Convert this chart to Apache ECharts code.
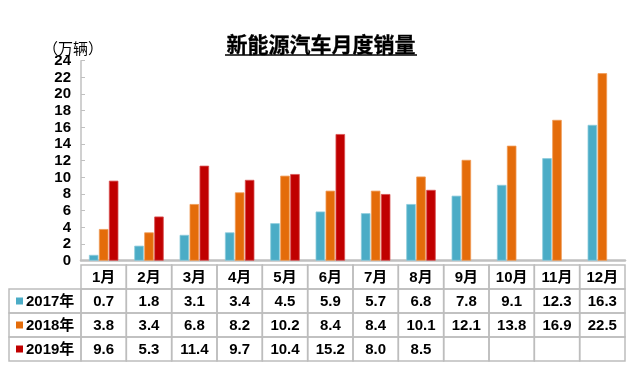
<!DOCTYPE html>
<html><head><meta charset="utf-8">
<script src="https://cdn.jsdelivr.net/npm/echarts@6/dist/echarts.min.js"></script>
<style>html,body{margin:0;padding:0;background:#fff}#c{width:640px;height:378px}</style>
</head><body><div id="c"></div>
<script>
const months = ['1月','2月','3月','4月','5月','6月','7月','8月','9月','10月','11月','12月'];
const years = ['2017年','2018年','2019年'];
const s2017 = [0.7,1.8,3.1,3.4,4.5,5.9,5.7,6.8,7.8,9.1,12.3,16.3];
const s2018 = [3.8,3.4,6.8,8.2,10.2,8.4,8.4,10.1,12.1,13.8,16.9,22.5];
const s2019 = [9.6,5.3,11.4,9.7,10.4,15.2,8.0,8.5,null,null,null,null];
const yMin = 0, yMax = 24, yStep = 2;
const titleText = '新能源汽车月度销量';
const unitText = '（万辆）';

const colors = ['#4bacc6','#e46c0a','#c00000'];
const borders = ['#8ccbdc','#f09a55','#d85050'];
const FONT = "'Liberation Sans','Noto Sans CJK SC',sans-serif";
const seriesData = [s2017, s2018, s2019];

const chart = echarts.init(document.getElementById('c'), null, {renderer:'canvas'});
const gridL = 81, gridR = 15, gridT = 60.7, gridB = 117.3;

chart.setOption({
  animation:false,
  backgroundColor:'#fff',
  grid:{left:gridL,right:gridR,top:gridT,bottom:gridB},
  xAxis:{type:'category',data:months,
    axisLine:{lineStyle:{color:'#c0c0c0',width:2.5}},
    axisTick:{show:false},axisLabel:{show:false}},
  yAxis:{type:'value',min:yMin,max:yMax,interval:yStep,
    axisLine:{show:true,lineStyle:{color:'#c0c0c0',width:1.5}},
    axisTick:{show:true,inside:true,length:4,lineStyle:{color:'#c0c0c0',width:1}},
    splitLine:{show:false},
    axisLabel:{color:'#000',fontWeight:'bold',fontSize:15,fontFamily:FONT,margin:10}},
  series: seriesData.map((d,i)=>({
    type:'bar',name:years[i],data:d,barWidth:9.5,barGap:'5%',
    itemStyle:{color:colors[i],borderColor:borders[i],borderWidth:0.8}
  }))
});

// table + title graphics
const g = [];
const colW = (chart.convertToPixel({xAxisIndex:0},1) - chart.convertToPixel({xAxisIndex:0},0));
const x0 = chart.convertToPixel({xAxisIndex:0},0) - colW/2;
const rowY = [265, 289, 313, 337, 361];
const leftX = 9;
const lineColor = '#bdbdbd';
for (let r=0;r<4;r++){
  const y1=rowY[r], y2=rowY[r+1];
  if (r>0) g.push({type:'rect',shape:{x:leftX,y:y1,width:x0-leftX,height:y2-y1},style:{fill:null,stroke:lineColor,lineWidth:1.5}});
  for (let c=0;c<months.length;c++){
    g.push({type:'rect',shape:{x:x0+c*colW,y:y1,width:colW,height:y2-y1},style:{fill:null,stroke:lineColor,lineWidth:1.5}});
  }
}
for (let c=0;c<months.length;c++){
  const cx = x0+(c+0.5)*colW;
  g.push({type:'text',x:cx,y:(rowY[0]+rowY[1])/2+1,style:{text:months[c],font:"bold 15px "+FONT,fill:'#000',align:'center',verticalAlign:'middle'}});
  for (let r=0;r<3;r++){
    const v = seriesData[r][c];
    if (v==null) continue;
    g.push({type:'text',x:cx,y:(rowY[r+1]+rowY[r+2])/2+1,style:{text:v.toFixed(1),font:"bold 15px "+FONT,fill:'#000',align:'center',verticalAlign:'middle'}});
  }
}
for (let r=0;r<3;r++){
  const cy=(rowY[r+1]+rowY[r+2])/2;
  g.push({type:'rect',shape:{x:16,y:cy-3.5,width:7,height:7},style:{fill:colors[r]}});
  g.push({type:'text',x:26,y:cy+1,style:{text:years[r],font:"bold 15px "+FONT,fill:'#000',align:'left',verticalAlign:'middle'}});
}
// title
g.push({type:'text',x:321,y:44,style:{text:titleText,font:"bold 21px 'Noto Sans CJK SC',sans-serif",fill:'#000',stroke:'#000',lineWidth:0.3,align:'center',verticalAlign:'middle'}});
g.push({type:'line',shape:{x1:225,y1:55,x2:417,y2:55},style:{stroke:'#000',lineWidth:1.5}});
g.push({type:'text',x:43,y:48,style:{text:unitText,font:"15px 'Noto Sans CJK SC',sans-serif",fill:'#000',align:'left',verticalAlign:'middle'}});

chart.setOption({graphic:g});
</script></body></html>
